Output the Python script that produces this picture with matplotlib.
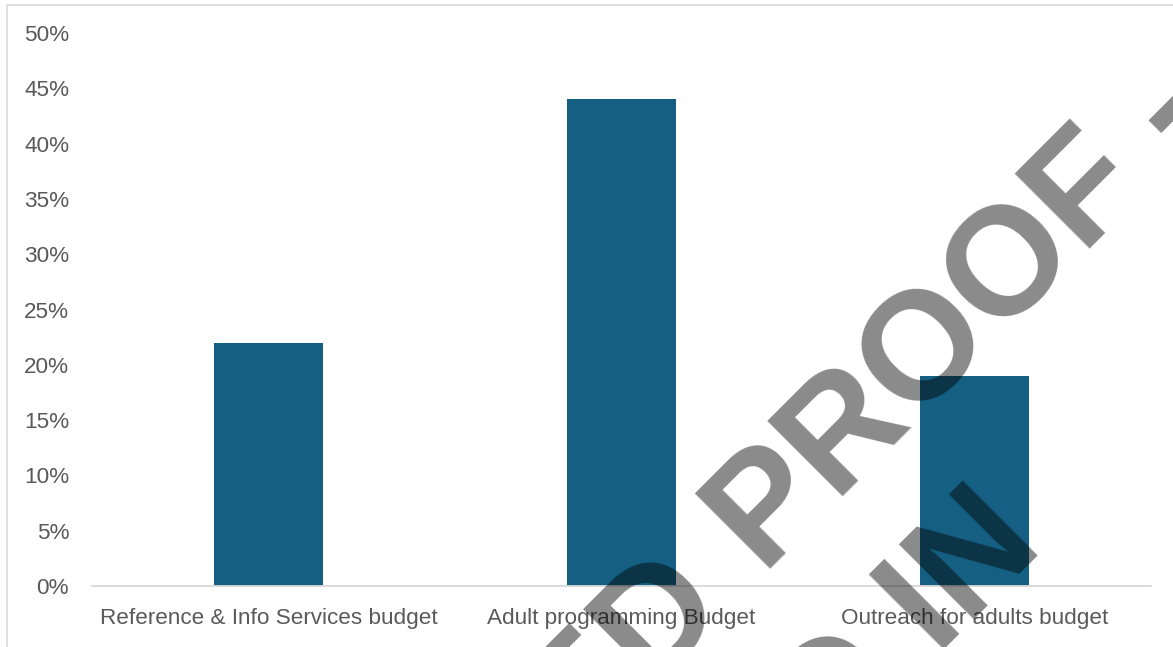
import matplotlib.pyplot as plt
from matplotlib.patches import Rectangle
from matplotlib.ticker import PercentFormatter

categories = ["Reference & Info Services budget", "Adult programming Budget", "Outreach for adults budget"]
shares = [0.22, 0.44, 0.19]
y_ticks = [0, 0.05, 0.10, 0.15, 0.20, 0.25, 0.30, 0.35, 0.40, 0.45, 0.50]

W, H = 1173, 647
plt.rcParams['font.family'] = ['Liberation Sans', 'DejaVu Sans']

fig = plt.figure(figsize=(W / 100, H / 100), dpi=100)
ax = fig.add_axes([92 / W, 1 - 586 / H, (1151 - 92) / W, (586 - 33) / H])

# Bars
ax.bar(range(len(categories)), shares, width=0.31, color="#156082", zorder=2)

ax.set_xlim(-0.5, len(categories) - 0.5)
ax.set_ylim(0, 0.5)
ax.set_yticks(y_ticks)
ax.yaxis.set_major_formatter(PercentFormatter(1.0, decimals=0))
ax.set_xticks(range(len(categories)))
ax.set_xticklabels(categories)

for side in ["top", "right", "left"]:
    ax.spines[side].set_visible(False)
ax.spines["bottom"].set_color("#d9d9d9")
ax.spines["bottom"].set_linewidth(1.3)
ax.tick_params(axis="x", length=0, pad=15.5, labelsize=16.2, labelcolor="#595959")
ax.tick_params(axis="y", length=0, pad=16.5, labelsize=16.2, labelcolor="#595959")

# Chart area border (only left and top edges fall inside the picture)
fig.add_artist(Rectangle((7 / W, -0.5), 2, 1.5 - 5 / H, transform=fig.transFigure,
                         fill=False, ec="#d9d9d9", lw=1.2))


# Watermark, placed in pixel coordinates
def px(x, y):
    return x / W, 1 - y / H


wm = dict(rotation=45, rotation_mode="anchor", va="baseline", fontsize=110.6,
          fontweight="bold", color="black", alpha=0.46, transform=fig.transFigure,
          zorder=10)
fig.text(*px(728, 605.5), "UNCORRECTED", ha="right", **wm)
fig.text(*px(763.7, 575.3), "PROOF -", ha="left", **wm)
fig.text(*px(1046, 548), "AS PUBLISHED IN", ha="right", **wm)

plt.savefig("out.png", dpi=100)
